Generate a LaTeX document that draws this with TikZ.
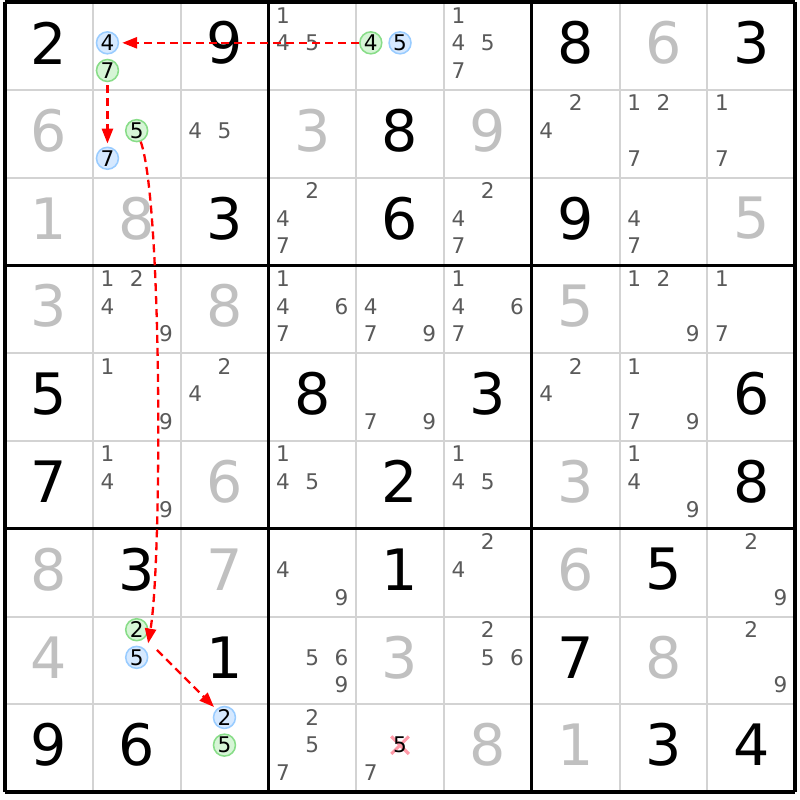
\documentclass[tikz,border=0pt]{standalone}
\usepackage{fontspec}
\setmainfont{DejaVu Sans}
\usetikzlibrary{arrows.meta}

\definecolor{givengray}{HTML}{C0C0C0}
\definecolor{candgray}{HTML}{5A5A5A}
\definecolor{thingrid}{HTML}{D3D3D3}
\definecolor{onfill}{HTML}{D6F5D6}
\definecolor{ondraw}{HTML}{88DD88}
\definecolor{offfill}{HTML}{D6E9FF}
\definecolor{offdraw}{HTML}{99CCFF}
\definecolor{crossred}{HTML}{FF9AA8}

\tikzset{
  big/.style={font=\fontsize{18.5}{18.5}\selectfont, inner sep=0pt, yshift=1pt},
  placed/.style={big, text=black},
  given/.style={big, text=givengray},
  cand/.style={font=\fontsize{7}{7}\selectfont, inner sep=0pt, text=candgray},
  pick/.style={circle, line width=0.5pt, minimum size=0.25cm, inner sep=0pt, font=\fontsize{7}{7}\selectfont},
  oncand/.style={pick, draw=ondraw, fill=onfill},
  offcand/.style={pick, draw=offdraw, fill=offfill},
  link/.style={red, line width=0.75pt, dash pattern=on 2.6pt off 1.6pt,
    -{Triangle[length=4.8pt,width=3.6pt]}, shorten >=1pt},
}

\begin{document}
\begin{tikzpicture}
  \fill[white] (-0.057,-9.09) rectangle (9.055,0.023);
  \useasboundingbox (-0.057,-9.09) rectangle (9.055,0.023);

  % grid
  \foreach \i in {1,2,4,5,7,8} {
    \draw[thingrid, line width=0.65pt] (\i,0) -- (\i,-9);
    \draw[thingrid, line width=0.65pt] (0,-\i) -- (9,-\i);
  }
  \foreach \i in {0,3,6,9} {
    \draw[line width=1.1pt] (\i,0) -- (\i,-9);
    \draw[line width=1.1pt] (0,-\i) -- (9,-\i);
  }

  % values
  \foreach \col/\row/\v in {1/1/2,3/1/9,7/1/8,9/1/3,5/2/8,3/3/3,5/3/6,7/3/9,
      1/5/5,4/5/8,6/5/3,9/5/6,1/6/7,5/6/2,9/6/8,2/7/3,5/7/1,8/7/5,
      3/8/1,7/8/7,1/9/9,2/9/6,8/9/3,9/9/4}
    \node[placed] (v\row\col) at (\col-0.5,-\row+0.5) {\v};
  \foreach \col/\row/\v in {8/1/6,1/2/6,4/2/3,6/2/9,1/3/1,2/3/8,9/3/5,1/4/3,
      3/4/8,7/4/5,3/6/6,7/6/3,1/7/8,3/7/7,7/7/6,1/8/4,5/8/3,8/8/8,6/9/8,7/9/1}
    \node[given] (v\row\col) at (\col-0.5,-\row+0.5) {\v};

  % candidates
  \foreach \col/\row/\digs in {4/1/{1,4,5}, 6/1/{1,4,5,7}, 3/2/{4,5}, 7/2/{2,4},
      8/2/{1,2,7}, 9/2/{1,7}, 4/3/{2,4,7}, 6/3/{2,4,7}, 8/3/{4,7},
      2/4/{1,2,4,9}, 4/4/{1,4,6,7}, 5/4/{4,7,9}, 6/4/{1,4,6,7}, 8/4/{1,2,9},
      9/4/{1,7}, 2/5/{1,9}, 3/5/{2,4}, 5/5/{7,9}, 7/5/{2,4}, 8/5/{1,7,9},
      2/6/{1,4,9}, 4/6/{1,4,5}, 6/6/{1,4,5}, 8/6/{1,4,9}, 4/7/{4,9},
      6/7/{2,4}, 9/7/{2,9}, 4/8/{5,6,9}, 6/8/{2,5,6}, 9/8/{2,9},
      4/9/{2,5,7}, 5/9/{7}}
    \foreach \dig in \digs {
      \pgfmathsetmacro\px{\col-1+(2*mod(\dig-1,3)+1)/6}
      \pgfmathsetmacro\py{-(\row-1)-0.15-0.315*int((\dig-1)/3)}
      \node[cand] (r\row c\col n\dig) at (\px,\py) {\dig};
    }

  % chain
  \node[offcand] (r1c2n4) at (1.167,-0.465) {4};
  \node[oncand]  (r1c2n7) at (1.167,-0.78) {7};
  \node[oncand]  (r1c5n4) at (4.167,-0.465) {4};
  \node[offcand] (r1c5n5) at (4.5,-0.465) {5};
  \node[oncand]  (r2c2n5) at (1.5,-1.465) {5};
  \node[offcand] (r2c2n7) at (1.167,-1.78) {7};
  \node[oncand]  (r8c2n2) at (1.5,-7.15) {2};
  \node[offcand] (r8c2n5) at (1.5,-7.465) {5};
  \node[offcand] (r9c3n2) at (2.5,-8.15) {2};
  \node[oncand]  (r9c3n5) at (2.5,-8.465) {5};

  \coordinate (x95) at (4.5,-8.465);
  \draw[crossred, line width=1pt] ([shift={(-0.1,-0.1)}]x95) -- ([shift={(0.1,0.1)}]x95);
  \draw[crossred, line width=1pt] ([shift={(-0.1,0.1)}]x95) -- ([shift={(0.1,-0.1)}]x95);
  \node[cand, text=black] (r9c5n5) at (x95) {5};

  \draw[link] (r1c5n4) -- (r1c2n4);
  \draw[link, shorten <=1pt] (r1c2n7) -- (r2c2n7);
  \draw[link] (r2c2n5) .. controls (1.79,-2.26) and (1.79,-6.36) .. ([shift={(0.03,0.03)}]r8c2n5.north east);
  \draw[link, shorten <=5.5pt] (r8c2n2) -- (r9c3n2);
\end{tikzpicture}
\end{document}
